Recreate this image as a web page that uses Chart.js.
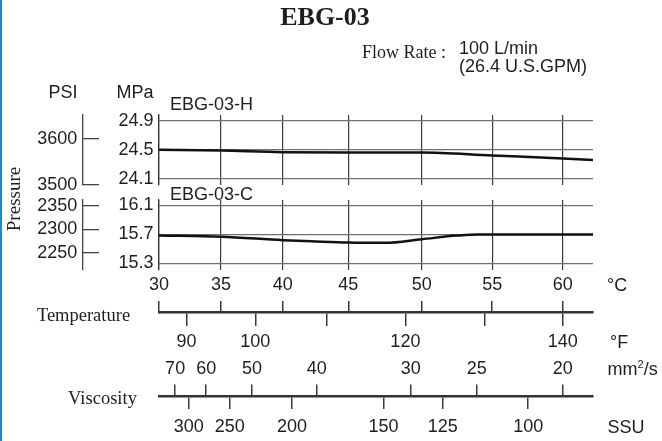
<!DOCTYPE html>
<html>
<head>
<meta charset="utf-8">
<title>EBG-03</title>
<script src="https://cdn.jsdelivr.net/npm/chart.js@4.4.1/dist/chart.umd.min.js"></script>
<style>
  html, body { margin: 0; padding: 0; background: #fff; }
  #sheet { position: relative; width: 662px; height: 441px; overflow: hidden; }
  #sheet canvas { position: absolute; left: 0; top: 0; }
  .edge { position: absolute; left: 0; top: 0; width: 2px; height: 441px; background: #1b8ad2; }
  .t { position: absolute; white-space: nowrap; line-height: 1; color: #1e1e1e; }
  .c { transform: translate(-50%, -50%); }
  .l { transform: translateY(-50%); }
  .sans { font-family: "Liberation Sans", Arial, Helvetica, sans-serif; font-size: 18px; }
  .serif { font-family: "Liberation Serif", "Times New Roman", serif; font-size: 18.5px; }
  sup { font-size: 11px; vertical-align: 7px; }
</style>
</head>
<body>
<div id="sheet">
  <canvas id="panelH" width="662" height="441"></canvas>
  <canvas id="panelC" width="662" height="441"></canvas>
  <canvas id="axisTemp" width="662" height="441"></canvas>
  <canvas id="axisVisc" width="662" height="441"></canvas>
  <div class="edge"></div>

  <div class="t c serif" style="left:325px; top:17px; font-size:26px; font-weight:bold;">EBG-03</div>
  <div class="t l serif" style="left:362px; top:52px; font-size:18px;">Flow Rate :</div>
  <div class="t l sans" style="left:459px; top:47.5px;">100 L/min</div>
  <div class="t l sans" style="left:459px; top:65.5px;">(26.4 U.S.GPM)</div>

  <div class="t c sans" style="left:63px; top:92px;">PSI</div>
  <div class="t c sans" style="left:135px; top:92px;">MPa</div>
  <div class="t l sans" style="left:170px; top:103.5px;">EBG-03-H</div>
  <div class="t l sans" style="left:170px; top:193.5px;">EBG-03-C</div>
  <div class="t serif" style="left:12.8px; top:198.5px; font-size:19px; transform: translate(-50%, -50%) rotate(-90deg);">Pressure</div>

  <div class="t c serif" style="left:83.5px; top:315px;">Temperature</div>
  <div class="t c serif" style="left:102.5px; top:397.5px;">Viscosity</div>
  <div class="t l sans" style="left:607px; top:285px;">°C</div>
  <div class="t l sans" style="left:610px; top:341.7px;">°F</div>
  <div class="t l sans" style="left:607.5px; top:368.3px;">mm<sup>2</sup>/s</div>
  <div class="t l sans" style="left:607.5px; top:427px;">SSU</div>
</div>
<script>
// temperature grid (°C)
const tempTicksC = [30, 35, 40, 45, 50, 55, 60];
// °F marks under the temperature line, only some are numbered
const tempTicksF = [90, 100, 110, 120, 130, 140];
const tempLabelsF = [90, 100, 120, 140];
// viscosity marks and the oil temperature (°C) each one sits at
const viscCst = [70, 60, 50, 40, 30, 25, 20];
const viscCstAtTemp = [31.3, 33.8, 37.5, 42.6, 49.25, 53.9, 60];
const viscSsu = [300, 250, 200, 150, 125, 100];
const viscSsuAtTemp = [32.4, 35.7, 40.7, 47.4, 51.5, 57.55];

// pressure scales
const mpaTicksH = [24.1, 24.5, 24.9];
const psiTicksH = [3500, 3550, 3600, 3650];
const psiLabelsH = [3500, 3600];
const mpaTicksC = [15.3, 15.7, 16.1];
const psiTicksC = [2250, 2300, 2350];
const psiLabelsC = [2250, 2300, 2350];

// set pressure curves
const tempH = [30, 35, 40, 45, 50, 55, 60, 62.2];
const pressH = [24.50, 24.488, 24.465, 24.462, 24.462, 24.42, 24.38, 24.357];
const tempC = [30, 35, 40, 42.5, 45, 47.5, 50, 52.5, 54, 55, 60, 62.2];
const pressC = [15.686, 15.668, 15.62, 15.602, 15.587, 15.583, 15.633, 15.683, 15.70, 15.70, 15.70, 15.70];

const W = 662, H = 441;

// the printed °C axis is not evenly divided; relative run of the axis at each stop
const tempStops = [30, 35, 40, 45, 50, 55, 60, 62.2];
const tempStopRun = [0, 62, 123.7, 189.2, 262.5, 333, 403.5, 433.7];

function tempToDecimal(v) {
    let i = 0;
    while (i < tempStops.length - 2 && v > tempStops[i + 1]) i++;
    const run = tempStopRun[i] + (v - tempStops[i]) / (tempStops[i + 1] - tempStops[i]) * (tempStopRun[i + 1] - tempStopRun[i]);
    return run / tempStopRun[tempStopRun.length - 1];
}

function decimalToTemp(d) {
    const run = d * tempStopRun[tempStopRun.length - 1];
    let i = 0;
    while (i < tempStopRun.length - 2 && run > tempStopRun[i + 1]) i++;
    return tempStops[i] + (run - tempStopRun[i]) / (tempStopRun[i + 1] - tempStopRun[i]) * (tempStops[i + 1] - tempStops[i]);
}

class PrintedTempScale extends Chart.LinearScale {
    getPixelForValue(value) {
        if (value === null || isNaN(value)) return NaN;
        return this.getPixelForDecimal(tempToDecimal(value));
    }
    getValueForPixel(pixel) {
        return decimalToTemp(this.getDecimalForPixel(pixel));
    }
}
PrintedTempScale.id = 'printedTemp';
PrintedTempScale.defaults = {};
Chart.register(PrintedTempScale);

Chart.defaults.font.family = '"Liberation Sans", Arial, Helvetica, sans-serif';
Chart.defaults.font.size = 18;
Chart.defaults.color = '#1e1e1e';

const setTicks = values => scale => { scale.ticks = values.map(v => ({ value: v })); };
const fixWidth = w => scale => { scale.width = w; };
const fixHeight = h => scale => { scale.height = h; };

const common = {
    responsive: false,
    animation: false,
    events: [],
    plugins: { legend: { display: false }, tooltip: { enabled: false } }
};

function pressurePanel(canvasId, temps, press, top, bottom, mpa, psi) {
    return new Chart(document.getElementById(canvasId), {
        type: 'line',
        data: {
            datasets: [{
                data: temps.map((t, i) => ({ x: t, y: press[i] })),
                borderColor: '#111',
                borderWidth: 2.5,
                pointRadius: 0,
                cubicInterpolationMode: 'monotone'
            }]
        },
        options: {
            ...common,
            layout: { padding: { left: 0, right: 69, top: top, bottom: H - bottom } },
            scales: {
                x: {
                    type: 'printedTemp', position: 'bottom', min: 30, max: 62.2,
                    afterBuildTicks: setTicks(tempTicksC),
                    afterFit: fixHeight(0),
                    ticks: { display: false },
                    grid: { color: '#3c3c3c', lineWidth: 1.2, drawTicks: false },
                    border: { display: false }
                },
                y: {
                    type: 'linear', position: 'left', weight: 0, min: mpa.min, max: mpa.max,
                    afterBuildTicks: setTicks(mpa.ticks),
                    afterFit: fixWidth(76),
                    ticks: { padding: 5.5, callback: v => v.toFixed(1) },
                    grid: { color: '#707070', lineWidth: 1.2, drawTicks: false },
                    border: { color: '#333', width: 1.3 }
                },
                psi: {
                    type: 'linear', position: 'left', weight: 1, min: psi.min, max: psi.max,
                    afterBuildTicks: setTicks(psi.ticks),
                    afterFit: fixWidth(83),
                    ticks: { padding: 21.7, callback: v => psi.labels.includes(v) ? String(v) : '' },
                    grid: { drawOnChartArea: false, tickLength: -16, color: '#444', lineWidth: 1.3 },
                    border: { color: '#444', width: 1.3 }
                }
            }
        }
    });
}

pressurePanel('panelH', tempH, pressH, 115, 185,
    { min: 24.013, max: 24.979, ticks: mpaTicksH },
    { min: 3500, max: 3651.5, ticks: psiTicksH, labels: psiLabelsH });

pressurePanel('panelC', tempC, pressC, 200, 270,
    { min: 15.207, max: 16.176, ticks: mpaTicksC },
    { min: 2213.8, max: 2362.8, ticks: psiTicksC, labels: psiLabelsC });

// a bare line with marks above and below it; labels are clipped to the axis box, so give it room
const STRIP = 40;

function markAxis(position, values, labelFn, tickLength, padding) {
    return {
        type: 'printedTemp', position: position, min: 30, max: 62.2,
        afterBuildTicks: setTicks(values),
        afterFit: fixHeight(STRIP),
        ticks: { padding: padding, maxRotation: 0, autoSkip: false, callback: labelFn },
        grid: { drawOnChartArea: false, tickLength: tickLength, color: '#3a3a3a', lineWidth: 1.5 },
        border: { color: '#333', width: 1.5 }
    };
}

function axisStrip(canvasId, lineY, upper, lower) {
    return new Chart(document.getElementById(canvasId), {
        type: 'line',
        data: { datasets: [] },
        options: {
            ...common,
            layout: { padding: { left: 159, right: 69, top: lineY - STRIP, bottom: Math.max(0, H - lineY - 1 - STRIP) } },
            scales: { y: { display: false }, upper: upper, lower: lower }
        }
    });
}

axisStrip('axisTemp', 312,
    markAxis('top', tempTicksC, v => String(v), 11, 5.2),
    markAxis('bottom', tempTicksF.map(f => (f - 32) * 5 / 9),
        (v, i) => tempLabelsF.includes(tempTicksF[i]) ? String(tempTicksF[i]) : '', 13, 5.2));

axisStrip('axisVisc', 396,
    markAxis('top', viscCstAtTemp, (v, i) => String(viscCst[i]), 11.5, 5),
    markAxis('bottom', viscSsuAtTemp, (v, i) => String(viscSsu[i]), 12, 7.2));
</script>
</body>
</html>
